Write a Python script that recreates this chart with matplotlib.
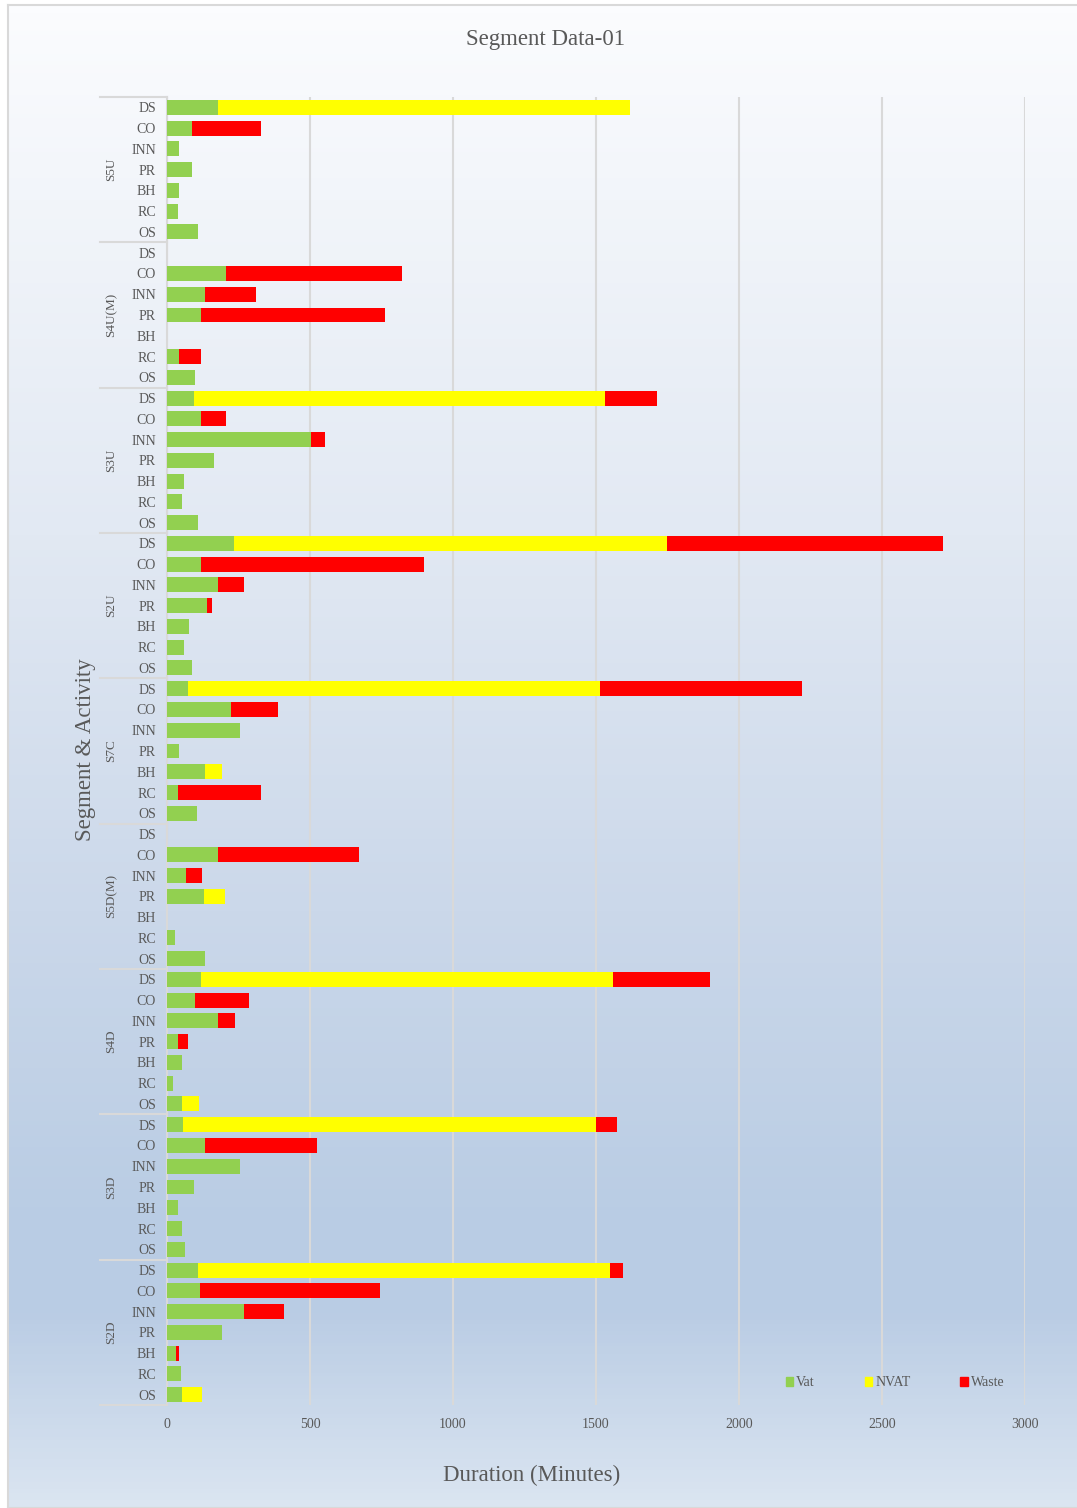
import matplotlib

matplotlib.use("Agg")
import matplotlib.pyplot as plt
import matplotlib.transforms as mtransforms
import numpy as np
from matplotlib.colors import LinearSegmentedColormap
from matplotlib.patches import Patch

plt.rcParams["font.family"] = ["Liberation Serif", "DejaVu Serif"]

segments = ["S5U", "S4U(M)", "S3U", "S2U", "S7C", "S5D(M)", "S4D", "S3D", "S2D"]
activities = ["DS", "CO", "INN", "PR", "BH", "RC", "OS"]

# minutes per activity, one row per segment (top to bottom)
vat = [
    [178, 87, 42, 87, 42, 38, 108],
    [0, 207, 133, 118, 0, 42, 98],
    [93, 119, 503, 163, 58, 52, 108],
    [233, 118, 178, 139, 78, 58, 87],
    [73, 224, 254, 43, 133, 37, 104],
    [0, 178, 68, 128, 0, 28, 133],
    [118, 98, 178, 37, 52, 22, 52],
    [57, 133, 254, 94, 38, 52, 63],
    [108, 114, 268, 192, 33, 48, 52],
]
nvat = [
    [1441, 0, 0, 0, 0, 0, 0],
    [0, 0, 0, 0, 0, 0, 0],
    [1440, 0, 0, 0, 0, 0, 0],
    [1515, 0, 0, 0, 0, 0, 0],
    [1441, 0, 0, 0, 59, 0, 0],
    [0, 0, 0, 75, 0, 0, 0],
    [1440, 0, 0, 0, 0, 0, 61],
    [1442, 0, 0, 0, 0, 0, 0],
    [1441, 0, 0, 0, 0, 0, 69],
]
waste = [
    [0, 242, 0, 0, 0, 0, 0],
    [0, 616, 179, 645, 0, 76, 0],
    [180, 88, 51, 0, 0, 0, 0],
    [966, 780, 90, 20, 0, 0, 0],
    [706, 164, 0, 0, 0, 292, 0],
    [0, 494, 54, 0, 0, 0, 0],
    [341, 190, 60, 36, 0, 0, 0],
    [76, 390, 0, 0, 0, 0, 0],
    [44, 630, 140, 0, 10, 0, 0],
]
x_ticks = [0, 500, 1000, 1500, 2000, 2500, 3000]

GREEN = "#92d050"
YELLOW = "#ffff00"
RED = "#ff0000"
TXT = "#595959"
GRID = "#d9d9d9"

W, H = 1077, 1508
fig = plt.figure(figsize=(W / 100, H / 100), dpi=100)

# gradient background panel
bg = fig.add_axes([8 / W, 0, 1.0, 1 - 5 / H])
cmap = LinearSegmentedColormap.from_list(
    "bg",
    [(0.0, "#fbfcfe"), (0.35, "#e2e9f3"), (0.6, "#cbd8ea"),
     (0.8, "#bacde4"), (0.87, "#b9cce4"), (1.0, "#dbe5f1")],
)
grad = np.linspace(0, 1, 400).reshape(-1, 1)
bg.imshow(grad, aspect="auto", cmap=cmap, extent=(0, 1, 0, 1), origin="upper")
bg.set_xticks([])
bg.set_yticks([])
for s in bg.spines.values():
    s.set_color(GRID)
    s.set_linewidth(1.5)

x0, x1 = 167, 1025
y_top, y_bot = 97, 1405
ax = fig.add_axes([x0 / W, 1 - y_bot / H, (x1 - x0) / W, (y_bot - y_top) / H])
ax.set_facecolor("none")

v = np.array(vat).ravel()
n = np.array(nvat).ravel()
w = np.array(waste).ravel()
rows = np.arange(len(v))
ax.barh(rows, v, height=0.72, color=GREEN, linewidth=0, zorder=3)
ax.barh(rows, n, left=v, height=0.72, color=YELLOW, linewidth=0, zorder=3)
ax.barh(rows, w, left=v + n, height=0.72, color=RED, linewidth=0, zorder=3)

ax.set_xlim(0, 3000)
ax.set_ylim(len(v) - 0.5, -0.5)
ax.set_xticks(x_ticks)
ax.set_xticklabels([str(t) for t in x_ticks], fontsize=10, color=TXT)
ax.set_yticks(rows)
ax.set_yticklabels(activities * len(segments), fontsize=10, color=TXT)
ax.tick_params(axis="y", length=0, pad=8)
ax.tick_params(axis="x", length=0, pad=9)
ax.grid(True, axis="x", color=GRID, linewidth=1.5, zorder=0)
for side in ["top", "right", "bottom"]:
    ax.spines[side].set_visible(False)
ax.spines["left"].set_color(GRID)
ax.spines["left"].set_linewidth(1.5)

# segment group labels and separators
trans = mtransforms.blended_transform_factory(ax.transAxes, ax.transData)
na = len(activities)
for i, seg in enumerate(segments):
    ax.text((111 - x0) / (x1 - x0), i * na + (na - 1) / 2, seg, transform=trans,
            rotation=90, ha="center", va="center", fontsize=9.5, color=TXT)
for i in range(len(segments) + 1):
    ax.plot([(100 - x0) / (x1 - x0), 0], [i * na - 0.5] * 2, transform=trans,
            color=GRID, linewidth=1.5, clip_on=False)

fig.text(545 / W, 1 - 40 / H, "Segment Data-01", ha="center", va="center",
         fontsize=16.5, color=TXT)
fig.text(532 / W, 1 - 1475 / H, "Duration (Minutes)", ha="center", va="center",
         fontsize=16.5, color=TXT)
fig.text(86 / W, 1 - 750 / H, "Segment & Activity", ha="center", va="center",
         rotation=90, fontsize=16.5, color=TXT)

handles = [Patch(color=GREEN), Patch(color=YELLOW), Patch(color=RED)]
leg = fig.legend(handles, ["Vat", "NVAT", "Waste"], loc="center",
                 bbox_to_anchor=(895 / W, 1 - 1383 / H), ncol=3, frameon=False,
                 fontsize=10, handlelength=0.55, handleheight=0.55,
                 handletextpad=0.2, columnspacing=3.6)
for t in leg.get_texts():
    t.set_color(TXT)

fig.savefig("out.png", dpi=100)
